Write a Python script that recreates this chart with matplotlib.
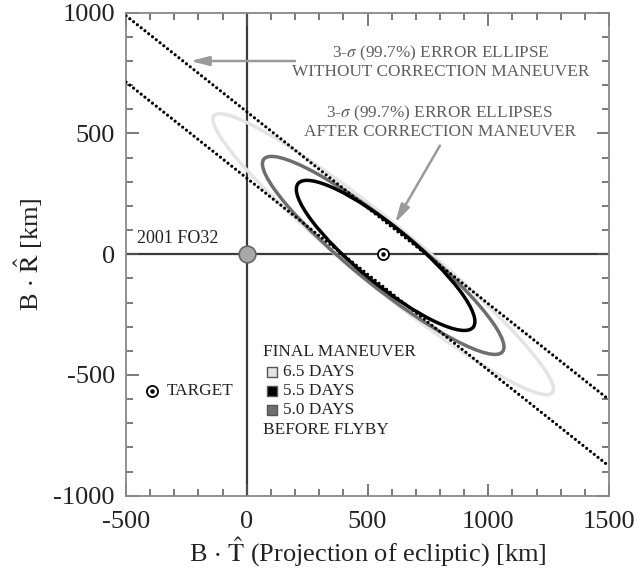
import matplotlib
matplotlib.use("Agg")
import matplotlib.pyplot as plt
from matplotlib.patches import Ellipse

plt.rcParams['font.family'] = ['Liberation Serif', 'DejaVu Serif']
plt.rcParams['mathtext.fontset'] = 'stix'
plt.rcParams['axes.unicode_minus'] = False

# ---- data ----
ellipse_labels = ['6.5 DAYS', '5.5 DAYS', '5.0 DAYS']
ellipse_cx = [565, 575, 565]
ellipse_cy = [0, -5, -5]
ellipse_a = [905, 469, 635]      # semi-major axes [km]
ellipse_b = [128, 116, 123]      # semi-minor axes [km]
ellipse_angle = [-39.3, -39.4, -38.9]
ellipse_colors = ['#e4e4e4', '#000000', '#6e6e6e']
draw_order = [0, 2, 1]

bound_slope = -0.795
bound_intercepts = [590, 315]

target_xy = (563, 0)
asteroid_xy = (0, 0)
target_legend_xy = (-391, -565)

xlim = (-500, 1500)
ylim = (-1000, 1000)
xticks = [-500, 0, 500, 1000, 1500]
yticks = [-1000, -500, 0, 500, 1000]

fig = plt.figure(figsize=(6.42, 5.78), dpi=100)
ax = fig.add_axes([0.1963, 0.1424, 0.7523, 0.8356])

# axes through origin
ax.axhline(0, color='#3a3a3a', lw=1.6, zorder=1)
ax.axvline(0, color='#3a3a3a', lw=1.6, zorder=1)

# boundary lines (no correction)
for b in bound_intercepts:
    ax.axline((0, b), slope=bound_slope, color='black', lw=2.3,
              linestyle=(0, (0.01, 1.5)), dash_capstyle='round', zorder=3)

# ellipses
for i in draw_order:
    e = Ellipse((ellipse_cx[i], ellipse_cy[i]), 2 * ellipse_a[i], 2 * ellipse_b[i],
                angle=ellipse_angle[i], fill=False, edgecolor=ellipse_colors[i],
                lw=2.5, zorder=2 + (i == 1) * 0.5)
    ax.add_patch(e)

# asteroid
ax.plot(*asteroid_xy, 'o', ms=12, mfc='#a8a8a8', mec='#666666', mew=1.2, zorder=5)
ax.text(-119, 67, '2001 FO32', ha='right', va='center', fontsize=13, color='#222222')

# target
for xy in [target_xy, target_legend_xy]:
    ax.plot(*xy, 'o', ms=8, mfc='white', mec='black', mew=1.3, zorder=6)
    ax.plot(*xy, 'o', ms=2.2, mfc='black', mec='black', zorder=7)
ax.text(target_legend_xy[0] + 58, target_legend_xy[1], 'TARGET', ha='left', va='center',
        fontsize=12.4, color='#222222')

# annotations
ann_color = '#5e5e5e'
ax.text(805, 795, '3-$\\sigma$ (99.7%) ERROR ELLIPSE\nWITHOUT CORRECTION MANEUVER',
        ha='center', va='center', fontsize=12.4, color=ann_color, linespacing=1.1)
ax.annotate('', xy=(-234, 800), xytext=(200, 800),
            arrowprops=dict(arrowstyle='-|>,head_length=1.1,head_width=0.28', color='#9a9a9a',
                            lw=1.8, shrinkA=0, shrinkB=0))
ax.text(800, 548, '3-$\\sigma$ (99.7%) ERROR ELLIPSES\nAFTER CORRECTION MANEUVER',
        ha='center', va='center', fontsize=12.4, color=ann_color, linespacing=1.1)
ax.annotate('', xy=(614, 129), xytext=(800, 450),
            arrowprops=dict(arrowstyle='-|>,head_length=1.1,head_width=0.28', color='#9a9a9a',
                            lw=1.8, shrinkA=0, shrinkB=0))

# legend
leg_color = '#222222'
leg_y = [-404, -487, -565, -644, -727]
ax.text(66, leg_y[0], 'FINAL MANEUVER', ha='left', va='center', fontsize=12.4, color=leg_color)
for k in range(3):
    ax.plot(104, leg_y[k + 1], 's', ms=6.5, mfc=ellipse_colors[k], mec='#555555', mew=1.0, zorder=6)
    ax.text(150, leg_y[k + 1], ellipse_labels[k], ha='left', va='center', fontsize=12.4, color=leg_color)
ax.text(66, leg_y[4], 'BEFORE FLYBY', ha='left', va='center', fontsize=12.4, color=leg_color)

ax.set_xlim(*xlim)
ax.set_ylim(*ylim)
ax.set_xticks(xticks)
ax.set_yticks(yticks)
ax.set_xticks(range(-500, 1501, 100), minor=True)
ax.set_yticks(range(-1000, 1001, 100), minor=True)
ax.tick_params(which='both', direction='in', top=True, right=True, color='#555555', width=1.1)
ax.tick_params(which='major', length=9, labelsize=19, labelcolor='#222222')
ax.tick_params(which='minor', length=5)
ax.tick_params(axis='x', which='major', pad=11)
ax.tick_params(axis='y', which='major', pad=8)
for s in ax.spines.values():
    s.set_color('#888888')
    s.set_linewidth(1.3)

ax.set_xlabel(r'B $\cdot$ $\hat{\mathrm{T}}$ (Projection of ecliptic) [km]', fontsize=19,
              color='#222222', labelpad=2)
ax.set_ylabel(r'B $\cdot$ $\hat{\mathrm{R}}$ [km]', fontsize=19, color='#222222', labelpad=6)

fig.savefig('out.png', dpi=100)
